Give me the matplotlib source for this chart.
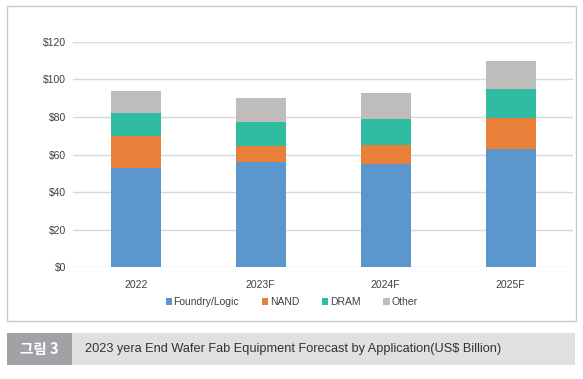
import numpy as np
import matplotlib
matplotlib.use('Agg')
import matplotlib.pyplot as plt
from matplotlib.patches import Rectangle, Patch
from matplotlib import font_manager

# 数据
years = ['2022', '2023F', '2024F', '2025F']
foundry = [53.0, 56.2, 55.1, 62.8]
nand = [17.0, 8.3, 10.1, 16.5]
dram = [12.0, 12.8, 13.5, 15.5]
other = [12.0, 13.0, 14.1, 14.9]
series_names = ['Foundry/Logic', 'NAND', 'DRAM', 'Other']
yticks = [0, 20, 40, 60, 80, 100, 120]
caption_tag = '그림 3'
caption = '2023 yera End Wafer Fab Equipment Forecast by Application(US$ Billion)'

colors = ['#5b96cc', '#e8803a', '#2fbca0', '#bfbcbc']

names = {f.name for f in font_manager.fontManager.ttflist}
narrow = 'Liberation Sans Narrow' if 'Liberation Sans Narrow' in names else None

plt.rcParams['font.family'] = ['Liberation Sans', 'DejaVu Sans']

W, H = 583, 379
fig = plt.figure(figsize=(W / 100, H / 100), dpi=100)

# 外框
fig.patches.append(Rectangle((6.5 / W, 1 - 321 / H), 569 / W, 315 / H,
                             transform=fig.transFigure, facecolor='none',
                             edgecolor='#c8c8c8', linewidth=1.0, zorder=0))

ax = fig.add_axes([73.3 / W, 1 - 267.3 / H, 499.7 / W, 225.6 / H])
x = np.arange(len(years))
bottom = np.zeros(len(years))
for vals, c, name in zip([foundry, nand, dram, other], colors, series_names):
    ax.bar(x, vals, width=0.4, bottom=bottom, color=c, label=name, zorder=3)
    bottom += np.array(vals)

ax.set_xlim(-0.5, 3.5)
ax.set_ylim(0, 120)
ax.set_yticks(yticks)
ax.set_yticklabels(['$%d' % v for v in yticks])
ax.set_xticks(x)
ax.set_xticklabels(years)
ax.yaxis.grid(True, color='#d9d9d9', linewidth=1.0, zorder=0)
ax.set_axisbelow(True)
for s in ax.spines.values():
    s.set_visible(False)
ax.tick_params(axis='both', length=0, labelsize=7.5, labelcolor='#404040')
ax.tick_params(axis='y', pad=5)
ax.tick_params(axis='x', pad=9.5)
ax.patch.set_alpha(0)

handles = [Patch(facecolor=c, edgecolor='none') for c in colors]
fig.legend(handles, series_names, loc='center', bbox_to_anchor=(0.5, 1 - 302 / H),
           ncol=4, frameon=False, fontsize=7.5, handlelength=0.6,
           handleheight=0.6, handletextpad=0.15, columnspacing=2.2,
           labelcolor='#404040')

# 图注
fig.patches.append(Rectangle((6.7 / W, 1 - 365 / H), 65 / W, 32.3 / H,
                             transform=fig.transFigure, facecolor='#a0a2a5',
                             edgecolor='none'))
fig.patches.append(Rectangle((71.7 / W, 1 - 365 / H), 503.5 / W, 32.3 / H,
                             transform=fig.transFigure, facecolor='#e0e0e0',
                             edgecolor='none'))
fig.text(39 / W, 1 - 349 / H, caption_tag, ha='center', va='center',
         color='white', fontsize=10.5, fontweight='bold',
         family=['Noto Sans CJK KR', 'DejaVu Sans'])
if narrow:
    fig.text(85 / W, 1 - 349 / H, caption, ha='left', va='center',
             color='#333333', fontsize=11, family=[narrow, 'DejaVu Sans'])
else:
    fig.text(85 / W, 1 - 349 / H, caption, ha='left', va='center',
             color='#333333', fontsize=9.2)

fig.savefig('out.png', dpi=100)
